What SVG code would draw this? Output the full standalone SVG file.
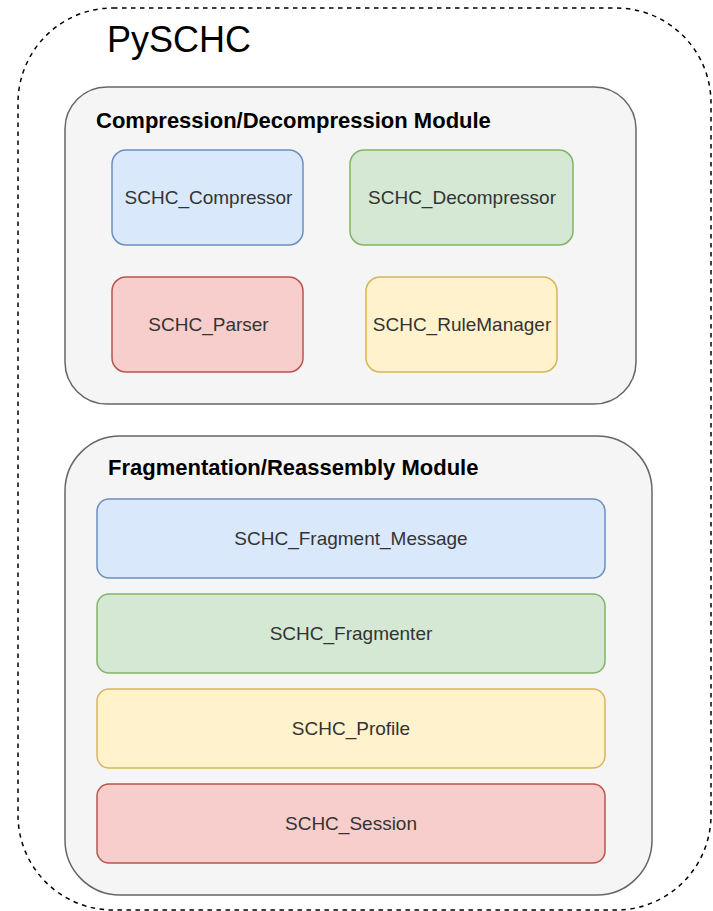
<svg xmlns="http://www.w3.org/2000/svg" width="713" height="911" viewBox="0 0 713 911">
<style>
.lbl{font-family:"Liberation Sans",Arial,sans-serif;font-size:19px;fill:#333333;text-anchor:middle;dominant-baseline:central}
.ttl{font-family:"Liberation Sans",Arial,sans-serif;font-size:22px;font-weight:bold;fill:#000000}
.mod{fill:#f5f5f5;stroke:#666666;stroke-width:1.5}
.blue{fill:#dae8fc;stroke:#6c8ebf;stroke-width:1.5}
.green{fill:#d5e8d4;stroke:#82b366;stroke-width:1.5}
.red{fill:#f8cecc;stroke:#b85450;stroke-width:1.5}
.yellow{fill:#fff2cc;stroke:#d6b656;stroke-width:1.5}
</style>
<rect width="713" height="911" fill="#ffffff"/>
<g id="pyschc">
<rect x="18" y="8" width="693" height="902" rx="95" ry="95" fill="none" stroke="#000000" stroke-width="1.5" stroke-dasharray="4.5 4.5"/>
<text x="107" y="52" font-family="Liberation Sans, Arial, sans-serif" font-size="36" fill="#000000">PySCHC</text>
</g>
<g id="compression-module">
<rect class="mod" x="65" y="87" width="571" height="317" rx="42" ry="42"/>
<text class="ttl" x="96" y="128">Compression/Decompression Module</text>
</g>
<g id="schc-compressor">
<rect class="blue" x="112" y="150" width="191" height="95" rx="14" ry="14"/>
<text class="lbl" x="208.5" y="197.5">SCHC_Compressor</text>
</g>
<g id="schc-decompressor">
<rect class="green" x="350" y="150" width="223" height="95" rx="14" ry="14"/>
<text class="lbl" x="462" y="197.5">SCHC_Decompressor</text>
</g>
<g id="schc-parser">
<rect class="red" x="112" y="277" width="191" height="95" rx="14" ry="14"/>
<text class="lbl" x="208.5" y="324.5">SCHC_Parser</text>
</g>
<g id="schc-rulemanager">
<rect class="yellow" x="366" y="277" width="191" height="95" rx="14" ry="14"/>
<text class="lbl" x="462" y="324.5">SCHC_RuleManager</text>
</g>
<g id="fragmentation-module">
<rect class="mod" x="65" y="436" width="587" height="459" rx="55" ry="55"/>
<text class="ttl" x="108" y="475">Fragmentation/Reassembly Module</text>
</g>
<g id="schc-fragment-message">
<rect class="blue" x="97" y="499" width="508" height="79" rx="12" ry="12"/>
<text class="lbl" x="351" y="538.5">SCHC_Fragment_Message</text>
</g>
<g id="schc-fragmenter">
<rect class="green" x="97" y="594" width="508" height="79" rx="12" ry="12"/>
<text class="lbl" x="351" y="633.5">SCHC_Fragmenter</text>
</g>
<g id="schc-profile">
<rect class="yellow" x="97" y="689" width="508" height="79" rx="12" ry="12"/>
<text class="lbl" x="351" y="728.5">SCHC_Profile</text>
</g>
<g id="schc-session">
<rect class="red" x="97" y="784" width="508" height="79" rx="12" ry="12"/>
<text class="lbl" x="351" y="823.5">SCHC_Session</text>
</g>
<g id="connectors"></g>
</svg>
